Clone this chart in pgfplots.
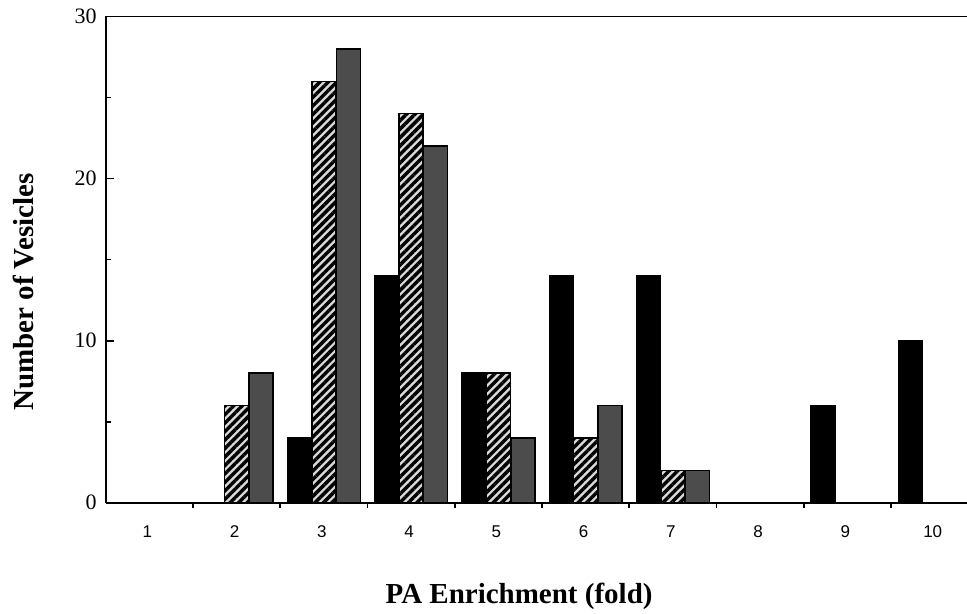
\documentclass[border=0pt]{standalone}
\usepackage{fontspec}
\setmainfont{Liberation Serif}
\newfontfamily\sansf{Liberation Sans}
\usepackage{pgfplots}
\pgfplotsset{compat=1.18}
\usetikzlibrary{patterns.meta}
\begin{document}
\begin{tikzpicture}
\begin{axis}[
  name=ax,
  scale only axis, width=430.65pt, height=243.1pt,
  xmin=0.5, xmax=10.37, ymin=0, ymax=30,
  axis x line*=bottom, axis y line*=left,
  axis line style={line width=0.9pt},
  ytick={0,10,20,30}, minor ytick={5,15,25},
  xtick={1,...,10}, minor xtick={1.5,2.5,...,9.5},
  every major x tick/.append style={draw=none},
  xtick align=outside, ytick align=inside,
  major tick length=4pt, minor tick length=2.5pt,
  tick style={line width=0.9pt, black},
  x tick label style={font=\sansf\fontsize{8.5}{9}\selectfont, yshift=-4pt, xshift=-1pt},
  y tick label style={font=\fontsize{11}{12}\selectfont, xshift=-1pt},
  /pgf/number format/assume math mode=true,
  ybar, bar width=0.275,
  xlabel={\bfseries PA Enrichment (fold)},
  ylabel={\bfseries Number of Vesicles},
  label style={font=\fontsize{14.5}{16}\selectfont},
  xlabel style={at={(rel axis cs:0.48,0)}, anchor=center, yshift=-47pt},
  ylabel style={at={(rel axis cs:0,0.433)}, anchor=center, yshift=40.85pt},
]
\addplot[draw=black, fill=black, bar shift=-0.28, line width=0.7pt]
  coordinates {(3,4) (4,14) (5,8) (6,14) (7,14) (9,6) (10,10)};
\addplot[draw=black, fill=gray!30, bar shift=0, line width=0.7pt,
  postaction={pattern={Lines[angle=45,distance=3pt,line width=1.7pt]}, pattern color=black}]
  coordinates {(2,6) (3,26) (4,24) (5,8) (6,4) (7,2)};
\addplot[draw=black, fill=black!70, bar shift=0.28, line width=0.7pt]
  coordinates {(2,8) (3,28) (4,22) (5,4) (6,6) (7,2)};
\draw[line width=0.9pt] (rel axis cs:0,1) -- (rel axis cs:1,1);
\coordinate (bl) at (rel axis cs:0,0);
\coordinate (tr) at (rel axis cs:1,1);
\end{axis}
\pgfresetboundingbox
\path ([xshift=-52.85pt,yshift=-55.65pt]bl) rectangle ([yshift=8.25pt]tr);
\end{tikzpicture}
\end{document}
